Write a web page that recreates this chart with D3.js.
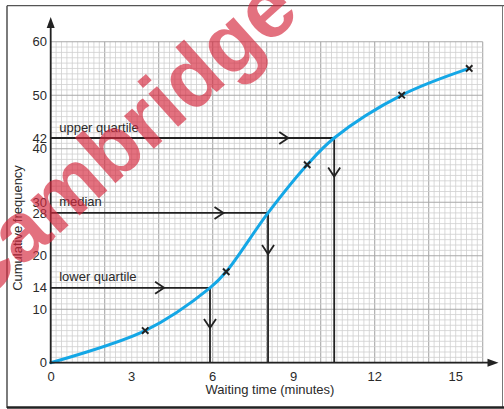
<!DOCTYPE html>
<html>
<head>
<meta charset="utf-8">
<script src="https://cdn.jsdelivr.net/npm/d3@7"></script>
<style>
  html, body { margin: 0; padding: 0; background: #fff; }
  svg { display: block; }
  text { font-family: "Liberation Sans", Arial, Helvetica, sans-serif; fill: #2a2a2a; }
</style>
</head>
<body>
<svg id="chart" width="504" height="409"></svg>
<script>
// ---- data ----
const xTicks = [0, 3, 6, 9, 12, 15];
const yTicks = [0, 10, 14, 20, 28, 30, 40, 42, 50, 60];
const pointX = [3.5, 6.5, 9.5, 13, 15.5];
const pointY = [6, 17, 37, 50, 55];
const curveX = [0, 3.5, 5.9, 6.5, 8.05, 9.5, 10.5, 13, 15.5];
const curveY = [0, 6, 14, 17, 28, 37, 42, 50, 55];
const quartileNames = ["lower quartile", "median", "upper quartile"];
const quartileY = [14, 28, 42];
const quartileX = [5.9, 8.05, 10.5];
const hArrowX = [4.2, 6.4, 8.8];
const vArrowY = [6.5, 20.3, 34.8];
const xTitle = "Waiting time (minutes)";
const yTitle = "Cumulative frequency";
const watermark = "Cambridge";

const svg = d3.select("#chart");
const x = d3.scaleLinear().domain([0, 16]).range([50.7, 482.7]);
const y = d3.scaleLinear().domain([0, 60]).range([362.7, 41.7]);
const ink = "#222";

// frame
svg.append("line").attr("x1", 7).attr("x2", 504).attr("y1", 5.7).attr("y2", 5.7).attr("stroke", "#555").attr("stroke-width", 1.2);
svg.append("line").attr("x1", 7).attr("x2", 7).attr("y1", 5.7).attr("y2", 408).attr("stroke", "#444").attr("stroke-width", 1.4);
svg.append("line").attr("x1", 502.5).attr("x2", 502.5).attr("y1", 5.7).attr("y2", 408).attr("stroke", "#777").attr("stroke-width", 1);
svg.append("line").attr("x1", 7).attr("x2", 504).attr("y1", 407.5).attr("y2", 407.5).attr("stroke", "#222").attr("stroke-width", 2.5);

// grid
const g = svg.append("g");
const minorX = d3.range(0, 16.001, 0.2);
const minorY = d3.range(0, 60.001, 1);
const isMajorX = d => Math.abs(d / 2 - Math.round(d / 2)) < 1e-6;
g.selectAll(".mx").data(minorX).join("line")
  .attr("x1", d => x(d)).attr("x2", d => x(d)).attr("y1", y(0)).attr("y2", y(60))
  .attr("stroke", d => isMajorX(d) ? "#a9a9a9" : "#cfcfcf")
  .attr("stroke-width", d => isMajorX(d) ? 1.1 : 0.8);
g.selectAll(".my").data(minorY).join("line")
  .attr("y1", d => y(d)).attr("y2", d => y(d)).attr("x1", x(0)).attr("x2", x(16))
  .attr("stroke", d => d % 10 === 0 ? "#a9a9a9" : "#cfcfcf")
  .attr("stroke-width", d => d % 10 === 0 ? 1.1 : 0.8);

// quartile reading lines
const q = quartileY.map((v, i) => ({ name: quartileNames[i], y: v, x: quartileX[i], ax: hArrowX[i], ay: vArrowY[i] }));
const ql = svg.append("g").attr("stroke", ink).attr("stroke-width", 1.8).attr("fill", "none");
q.forEach(d => {
  ql.append("path").attr("d", `M${x(0)},${y(d.y)}H${x(d.x)}V${y(0)}`);
  ql.append("path").attr("d", `M${x(d.ax) - 9},${y(d.y) - 6}L${x(d.ax)},${y(d.y)}L${x(d.ax) - 9},${y(d.y) + 6}`);
  ql.append("path").attr("d", `M${x(d.x) - 6},${y(d.ay) - 9}L${x(d.x)},${y(d.ay)}L${x(d.x) + 6},${y(d.ay) - 9}`);
});
svg.append("g").selectAll("text").data(q).join("text")
  .attr("x", x(0) + 8.5).attr("y", d => y(d.y) - 6.5)
  .attr("font-size", 13).text(d => d.name);

// curve
const cdata = curveX.map((v, i) => [v, curveY[i]]);
svg.append("path").datum(cdata)
  .attr("d", d3.line().x(d => x(d[0])).y(d => y(d[1])).curve(d3.curveCatmullRom.alpha(0.5)))
  .attr("fill", "none").attr("stroke", "#14a7e6").attr("stroke-width", 3).attr("stroke-linecap", "round");

// crosses
const pts = pointX.map((v, i) => [v, pointY[i]]);
svg.append("g").selectAll("path").data(pts).join("path")
  .attr("d", d => { const cx = x(d[0]), cy = y(d[1]), s = 3.2; return `M${cx - s},${cy - s}L${cx + s},${cy + s}M${cx - s},${cy + s}L${cx + s},${cy - s}`; })
  .attr("stroke", ink).attr("stroke-width", 2).attr("fill", "none");

// axes
svg.append("line").attr("x1", x(0)).attr("x2", x(0)).attr("y1", y(0) + 1).attr("y2", 26).attr("stroke", ink).attr("stroke-width", 1.8);
svg.append("path").attr("d", `M${x(0)},17L${x(0) - 4},28L${x(0) + 4},28Z`).attr("fill", ink);
svg.append("line").attr("x1", x(0) - 1).attr("x2", 490).attr("y1", y(0)).attr("y2", y(0)).attr("stroke", ink).attr("stroke-width", 1.8);
svg.append("path").attr("d", `M498.5,${y(0)}L487.5,${y(0) - 4}L487.5,${y(0) + 4}Z`).attr("fill", ink);

// tick labels
svg.append("g").selectAll("text").data(yTicks).join("text")
  .attr("x", 47).attr("y", d => y(d)).attr("dy", "0.36em")
  .attr("text-anchor", "end").attr("font-size", 13).text(d => d);
svg.append("g").selectAll("text").data(xTicks).join("text")
  .attr("x", d => x(d) + (d === 0 ? 0.5 : 0)).attr("y", y(0) + 9).attr("dy", "0.72em")
  .attr("text-anchor", "middle").attr("font-size", 13).text(d => d);

// titles
svg.append("text").attr("x", 270).attr("y", 394).attr("text-anchor", "middle").attr("font-size", 13).text(xTitle);
svg.append("text").attr("transform", "translate(21.5,228) rotate(-90)").attr("text-anchor", "middle").attr("font-size", 13).text(yTitle);

// watermark
svg.append("text").attr("transform", "translate(139,162) rotate(-42)")
  .attr("text-anchor", "middle").attr("font-size", 84).attr("font-weight", "bold")
  .style("fill", "#d5283c").attr("fill-opacity", 0.66).text(watermark);
</script>
</body>
</html>
